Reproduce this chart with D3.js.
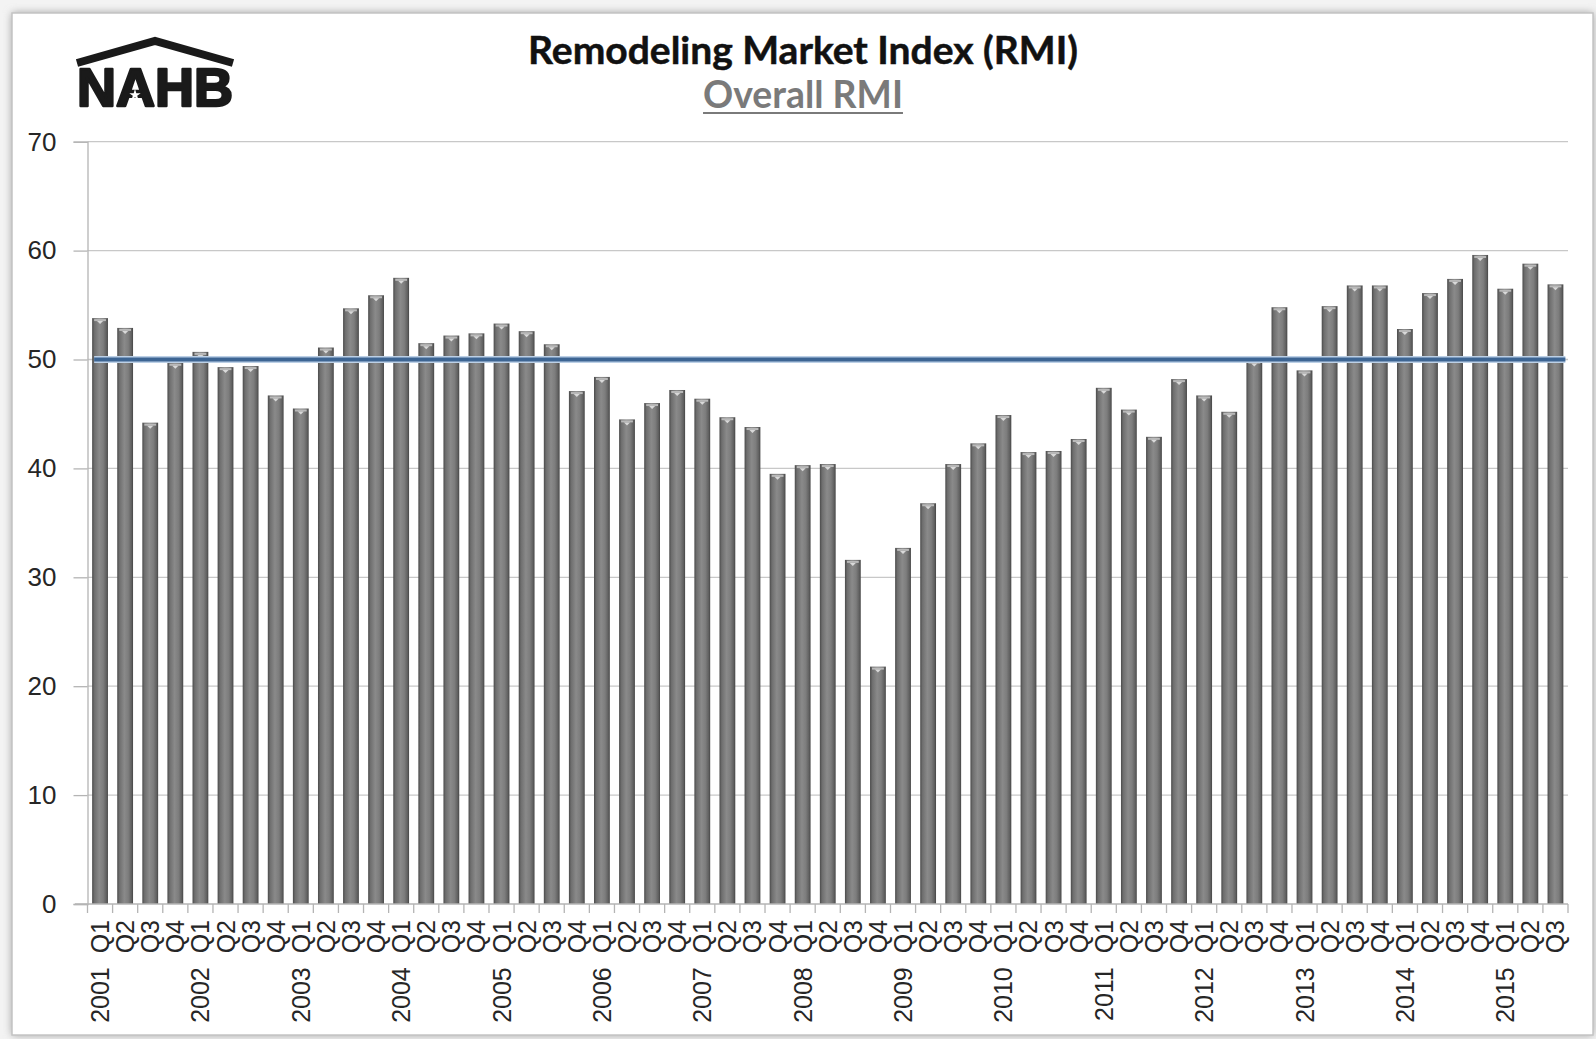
<!DOCTYPE html>
<html>
<head>
<meta charset="utf-8">
<script src="https://cdn.jsdelivr.net/npm/d3@7"></script>
<style>
  html, body { margin: 0; padding: 0; background: #ffffff; }
  svg { display: block; }
</style>
</head>
<body>
<svg id="chart" width="1596" height="1039"></svg>
<script>
// ---------------- DATA ----------------
const years = ["2001","2002","2003","2004","2005","2006","2007","2008",
               "2009","2010","2011","2012","2013","2014","2015"];
const quarters = ["Q1","Q2","Q3","Q4"];
const rmiValues = [
  53.8, 52.9, 44.2, 49.7,   // 2001
  50.7, 49.3, 49.4, 46.7,   // 2002
  45.5, 51.1, 54.7, 55.9,   // 2003
  57.5, 51.5, 52.2, 52.4,   // 2004
  53.3, 52.6, 51.4, 47.1,   // 2005
  48.4, 44.5, 46.0, 47.2,   // 2006
  46.4, 44.7, 43.8, 39.5,   // 2007
  40.3, 40.4, 31.6, 21.8,   // 2008
  32.7, 36.8, 40.4, 42.3,   // 2009
  44.9, 41.5, 41.6, 42.7,   // 2010
  47.4, 45.4, 42.9, 48.2,   // 2011
  46.7, 45.2, 49.9, 54.8,   // 2012
  49.0, 54.9, 56.8, 56.8,   // 2013
  52.8, 56.1, 57.4, 59.6,   // 2014
  56.5, 58.8, 56.9          // 2015
];
const yTickValues = [0, 10, 20, 30, 40, 50, 60, 70];
const breakEvenValue = 50;
const titleText = "Remodeling Market Index (RMI)";
const subtitleText = "Overall RMI";
const logoText = "NAHB";

// categories built from year / quarter labels
const categories = [];
years.forEach(yr => quarters.forEach(q => {
  if (categories.length < rmiValues.length) categories.push({ year: yr, q: q });
}));
const data = categories.map((c, i) => ({ idx: i, year: c.year, q: c.q, value: rmiValues[i] }));

// ---------------- LAYOUT ----------------
const svg = d3.select("#chart");
const W = 1596, H = 1039;
const plot = { left: 87.5, right: 1568, top: 141.7, bottom: 904 };

const defs = svg.append("defs");
const shadow = defs.append("filter").attr("id", "frameShadow")
  .attr("x", "-5%").attr("y", "-5%").attr("width", "110%").attr("height", "110%");
shadow.append("feGaussianBlur").attr("stdDeviation", 4);

const barGrad = defs.append("linearGradient").attr("id", "barGrad")
  .attr("x1", "0%").attr("x2", "100%").attr("y1", "0%").attr("y2", "0%");
[["0%", "#4a4a4a"], ["14%", "#6e6e6e"], ["45%", "#8a8a8a"], ["70%", "#7d7d7d"], ["90%", "#606060"], ["100%", "#454545"]]
  .forEach(([o, c]) => barGrad.append("stop").attr("offset", o).attr("stop-color", c));

// background + frame
svg.append("rect").attr("width", W).attr("height", H).attr("fill", "#f3f3f3");
svg.append("rect").attr("x", 12).attr("y", 13).attr("width", 1581).attr("height", 1022)
  .attr("fill", "#9a9a9a").attr("filter", "url(#frameShadow)");
svg.append("rect").attr("x", 12).attr("y", 13).attr("width", 1581).attr("height", 1022)
  .attr("fill", "#ffffff").attr("stroke", "#c4c4c4").attr("stroke-width", 1.5);

// ---------------- SCALES ----------------
const x = d3.scaleBand()
  .domain(data.map(d => d.idx))
  .range([plot.left, plot.right])
  .paddingInner(0.37)
  .paddingOuter(0.185);
const y = d3.scaleLinear().domain([0, 70]).range([plot.bottom, plot.top]);

// ---------------- GRIDLINES ----------------
svg.append("g").selectAll("line")
  .data(yTickValues.filter(v => v > 0))
  .join("line")
  .attr("x1", plot.left).attr("x2", plot.right)
  .attr("y1", d => y(d)).attr("y2", d => y(d))
  .attr("stroke", "#c8c8c8").attr("stroke-width", 1.3);

// ---------------- Y AXIS ----------------
const yAxis = svg.append("g")
  .attr("transform", `translate(${plot.left},0)`)
  .call(d3.axisLeft(y).tickValues(yTickValues).tickSize(14).tickPadding(17).tickFormat(d3.format("d")));
yAxis.select(".domain").attr("stroke", "#b4b4b4").attr("stroke-width", 1.3);
yAxis.selectAll(".tick line").attr("stroke", "#b4b4b4").attr("stroke-width", 1.3);
yAxis.selectAll(".tick text")
  .attr("font-family", "'Liberation Sans', Arial, sans-serif")
  .attr("font-size", 26).attr("fill", "#262626");

// ---------------- BARS ----------------
const bars = svg.append("g").selectAll("g.bar").data(data).join("g").attr("class", "bar");
bars.append("rect")
  .attr("x", d => x(d.idx))
  .attr("y", d => y(d.value))
  .attr("width", x.bandwidth())
  .attr("height", d => y(0) - y(d.value))
  .attr("fill", "url(#barGrad)");
// subtle bevel highlight on bar top
bars.append("rect")
  .attr("x", d => x(d.idx) + 2)
  .attr("y", d => y(d.value) + 1)
  .attr("width", x.bandwidth() - 4)
  .attr("height", 2)
  .attr("fill", "#b9b9b9");
bars.append("path")
  .attr("d", d => {
    const cx = x(d.idx) + x.bandwidth() / 2, ty = y(d.value) + 3;
    return `M${cx - 3},${ty} L${cx + 3},${ty} L${cx},${ty + 3} Z`;
  })
  .attr("fill", "#d9d9d9");

// ---------------- X AXIS ----------------
svg.append("line")
  .attr("x1", 75).attr("x2", plot.right)
  .attr("y1", y(0)).attr("y2", y(0))
  .attr("stroke", "#b4b4b4").attr("stroke-width", 1.3);
const boundaries = d3.range(data.length + 1).map(i => plot.left + i * x.step());
svg.append("g").selectAll("line").data(boundaries).join("line")
  .attr("x1", d => d).attr("x2", d => d)
  .attr("y1", y(0)).attr("y2", y(0) + 9)
  .attr("stroke", "#b4b4b4").attr("stroke-width", 1.3);

svg.append("g").selectAll("text").data(data).join("text")
  .attr("transform", d => `translate(${x(d.idx) + x.bandwidth() / 2},${y(0) + 16}) rotate(-90)`)
  .attr("text-anchor", "end")
  .attr("dy", "0.36em")
  .attr("font-family", "'Liberation Sans', Arial, sans-serif")
  .attr("font-size", 25)
  .attr("fill", "#262626")
  .style("white-space", "pre")
  .text(d => d.q === quarters[0] ? `${d.year}  ${d.q}` : d.q);

// ---------------- 50 LINE ----------------
const first = data[0], last = data[data.length - 1];
const refPts = [
  { px: x(first.idx) + 2, v: breakEvenValue },
  { px: x(last.idx) + x.bandwidth() + 2, v: breakEvenValue }
];
const refLine = d3.line().x(d => d.px).y(d => y(d.v));
svg.append("path").datum(refPts).attr("d", refLine)
  .attr("fill", "none").attr("stroke", "#bcd0e6").attr("stroke-width", 7);
svg.append("path").datum(refPts).attr("d", refLine)
  .attr("fill", "none").attr("stroke", "#3d6593").attr("stroke-width", 4);

// ---------------- TITLES ----------------
function fitText(sel, targetWidth, startSize) {
  sel.attr("font-size", startSize);
  const w = sel.node().getComputedTextLength();
  sel.attr("font-size", startSize * targetWidth / w);
}
const title = svg.append("text")
  .attr("x", 803).attr("y", 64)
  .attr("text-anchor", "middle")
  .attr("font-family", "Lato, 'Open Sans', sans-serif")
  .attr("font-weight", "bold")
  .attr("fill", "#111111")
  .attr("stroke", "#111111").attr("stroke-width", 0.5)
  .text(titleText);
fitText(title, 550, 32);

const sub = svg.append("text")
  .attr("x", 803).attr("y", 108)
  .attr("text-anchor", "middle")
  .attr("font-family", "Lato, 'Open Sans', sans-serif")
  .attr("font-weight", "bold")
  .attr("fill", "#7a7a7a")
  .text(subtitleText);
fitText(sub, 200, 30);
const subW = sub.node().getComputedTextLength();
svg.append("line")
  .attr("x1", 803 - subW / 2).attr("x2", 803 + subW / 2)
  .attr("y1", 113).attr("y2", 113)
  .attr("stroke", "#7a7a7a").attr("stroke-width", 2.2);

// ---------------- LOGO ----------------
const logo = svg.append("g");
logo.append("path")
  .attr("d", "M77,63 L155,41 L233,63")
  .attr("fill", "none").attr("stroke", "#1a1a1a").attr("stroke-width", 8)
  .attr("stroke-linejoin", "miter");
const logoT = logo.append("text")
  .attr("x", 77).attr("y", 106)
  .attr("font-family", "'Liberation Sans', Arial, sans-serif")
  .attr("font-weight", "bold")
  .attr("fill", "#1a1a1a")
  .attr("stroke", "#1a1a1a").attr("stroke-width", 2.5).attr("stroke-linejoin", "round")
  .text(logoText);
fitText(logoT, 156, 53);
logo.append("path")
  .attr("d", d3.symbol().type(d3.symbolStar).size(40)())
  .attr("transform", "translate(135,95)")
  .attr("fill", "#ffffff");
</script>
</body>
</html>
